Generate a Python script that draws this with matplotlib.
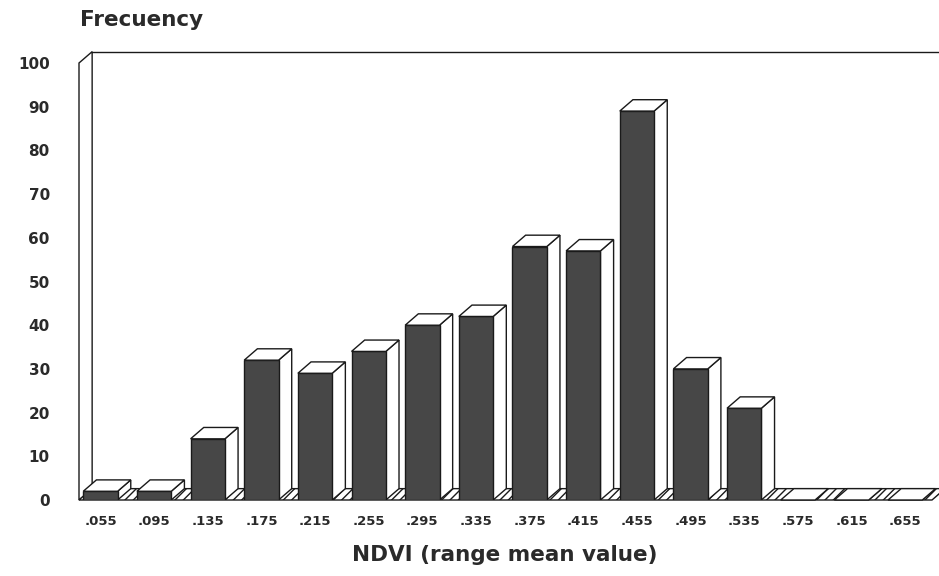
import matplotlib
matplotlib.use("Agg")
import matplotlib.pyplot as plt
from matplotlib.patches import Polygon

categories = [".055", ".095", ".135", ".175", ".215", ".255", ".295", ".335",
              ".375", ".415", ".455", ".495", ".535", ".575", ".615", ".655"]
frequency = [2, 2, 14, 32, 29, 34, 40, 42, 58, 57, 89, 30, 21, 0, 0, 0]
yticks = list(range(0, 101, 10))

plt.rcParams['font.family'] = ['DejaVu Sans']

fig = plt.figure(figsize=(9.39, 5.76), dpi=100)
ax = fig.add_axes([79/939, 76/576, (932-79)/939, 437/576])

xl, xr = -0.4, 15.5
ax.set_xlim(xl, xr)
ax.set_ylim(0, 100)
ddx, ddy = 0.245, 2.6   # depth offset in data units
w = 0.64
edge = '#1a1a1a'
lw = 1.0
txt = '#2a2a2a'

# walls
left_wall = Polygon([(xl, 0), (xl+ddx, ddy), (xl+ddx, 100+ddy), (xl, 100)],
                    closed=True, facecolor='white', edgecolor=edge, lw=lw, clip_on=False, zorder=1)
ax.add_patch(left_wall)
ax.plot([xl+ddx, xr+ddx], [100+ddy, 100+ddy], color=edge, lw=lw, clip_on=False, zorder=1)
floor = Polygon([(xl, 0), (xr, 0), (xr+ddx, ddy), (xl+ddx, ddy)], closed=True,
                facecolor='white', edgecolor=edge, lw=lw, hatch='////', clip_on=False, zorder=1)
ax.add_patch(floor)

for i, v in enumerate(frequency):
    x0 = i - w/2
    x1 = i + w/2
    side = Polygon([(x1, 0), (x1+ddx, ddy), (x1+ddx, v+ddy), (x1, v)], closed=True,
                   facecolor='white', edgecolor=edge, lw=lw, zorder=3)
    ax.add_patch(side)
    top = Polygon([(x0, v), (x1, v), (x1+ddx, v+ddy), (x0+ddx, v+ddy)], closed=True,
                  facecolor='white', edgecolor=edge, lw=lw, zorder=4, clip_on=False)
    ax.add_patch(top)
ax.bar(range(len(frequency)), frequency, width=w, color='#474747', edgecolor=edge,
       linewidth=lw, zorder=3)

for s in ax.spines.values():
    s.set_visible(False)

ax.set_yticks(yticks)
ax.set_yticklabels([str(t) for t in yticks], fontsize=11, fontweight='bold', color=txt)
ax.set_xticks(range(len(categories)))
ax.set_xticklabels(categories, fontsize=9.5, fontweight='bold', color=txt)
ax.tick_params(axis='y', length=0, pad=21)
ax.tick_params(axis='x', length=0, pad=11)

fig.text(80/939, 1 - 20/576, "Frecuency", fontsize=15.5, fontweight='bold', color=txt,
         ha='left', va='center')
fig.text(505/939, 1 - 555/576, "NDVI (range mean value)", fontsize=15.5, fontweight='bold',
         color=txt, ha='center', va='center')

fig.savefig("out.png", dpi=100, facecolor='white')
